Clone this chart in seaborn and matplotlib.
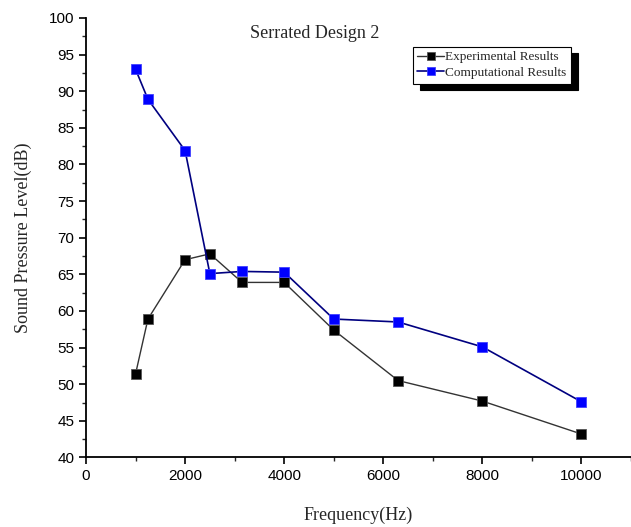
import numpy as np
import pandas as pd
import seaborn as sns
import matplotlib.pyplot as plt
from matplotlib.ticker import MultipleLocator

freq = [1000, 1250, 2000, 2500, 3150, 4000, 5000, 6300, 8000, 10000]
experimental = [51.4, 58.9, 67.0, 67.8, 63.9, 63.9, 57.4, 50.5, 47.7, 43.2]
computational = [93.0, 88.9, 81.9, 65.1, 65.4, 65.3, 58.9, 58.5, 55.1, 47.6]

sns.set_style("ticks")
plt.rcParams['font.family'] = ['Liberation Sans', 'DejaVu Sans']

df = pd.DataFrame({
    "Frequency": freq * 2,
    "SPL": experimental + computational,
    "Series": ["Experimental Results"] * len(freq) + ["Computational Results"] * len(freq),
})

fig = plt.figure(figsize=(6.31, 5.27), dpi=100)
ax = fig.add_axes([0.1363, 0.1319, 0.8637, 0.834])

sns.lineplot(data=df[df.Series == "Experimental Results"], x="Frequency", y="SPL",
             color="#333333", lw=1.0, marker="s", markersize=7,
             markerfacecolor="black", markeredgecolor="#555555", markeredgewidth=0.6,
             label="Experimental Results", ax=ax)
sns.lineplot(data=df[df.Series == "Computational Results"], x="Frequency", y="SPL",
             color="#000080", lw=1.2, marker="s", markersize=7,
             markerfacecolor="#0000ff", markeredgecolor="#4040ff", markeredgewidth=0.6,
             label="Computational Results", ax=ax)

ax.set_xlim(0, 11000)
ax.set_ylim(40, 100)
ax.xaxis.set_major_locator(MultipleLocator(2000))
ax.xaxis.set_minor_locator(MultipleLocator(1000))
ax.yaxis.set_major_locator(MultipleLocator(5))
ax.yaxis.set_minor_locator(MultipleLocator(2.5))
ax.tick_params(which="major", length=5, width=1.2, labelsize=11, colors="black")
ax.tick_params(which="minor", length=3, width=1.0)
for s in ["top", "right"]:
    ax.spines[s].set_visible(False)
for s in ["left", "bottom"]:
    ax.spines[s].set_linewidth(1.3)
    ax.spines[s].set_color("black")

serif = ["Liberation Serif", "DejaVu Serif"]
ax.set_xlabel("Frequency(Hz)", fontsize=13, family=serif, labelpad=17)
ax.set_ylabel("Sound Pressure Level(dB)", fontsize=13, family=serif, labelpad=12)
ax.text(0.42, 0.965, "Serrated Design 2", transform=ax.transAxes, ha="center", va="center",
        fontsize=13, family=serif)

leg = ax.legend(loc="upper right", bbox_to_anchor=(0.89, 0.935),
                prop={"family": serif, "size": 9.5}, frameon=True, fancybox=False,
                shadow={"color": "black", "alpha": 1.0, "ox": 5, "oy": -5},
                handlelength=2.0, handletextpad=0.1, borderpad=0.35, labelspacing=0.25,
                borderaxespad=0)
leg.get_frame().set_edgecolor("black")
leg.get_frame().set_linewidth(0.8)
for h in leg.legend_handles:
    h.set_markersize(6)

fig.savefig("out.png", dpi=100)
